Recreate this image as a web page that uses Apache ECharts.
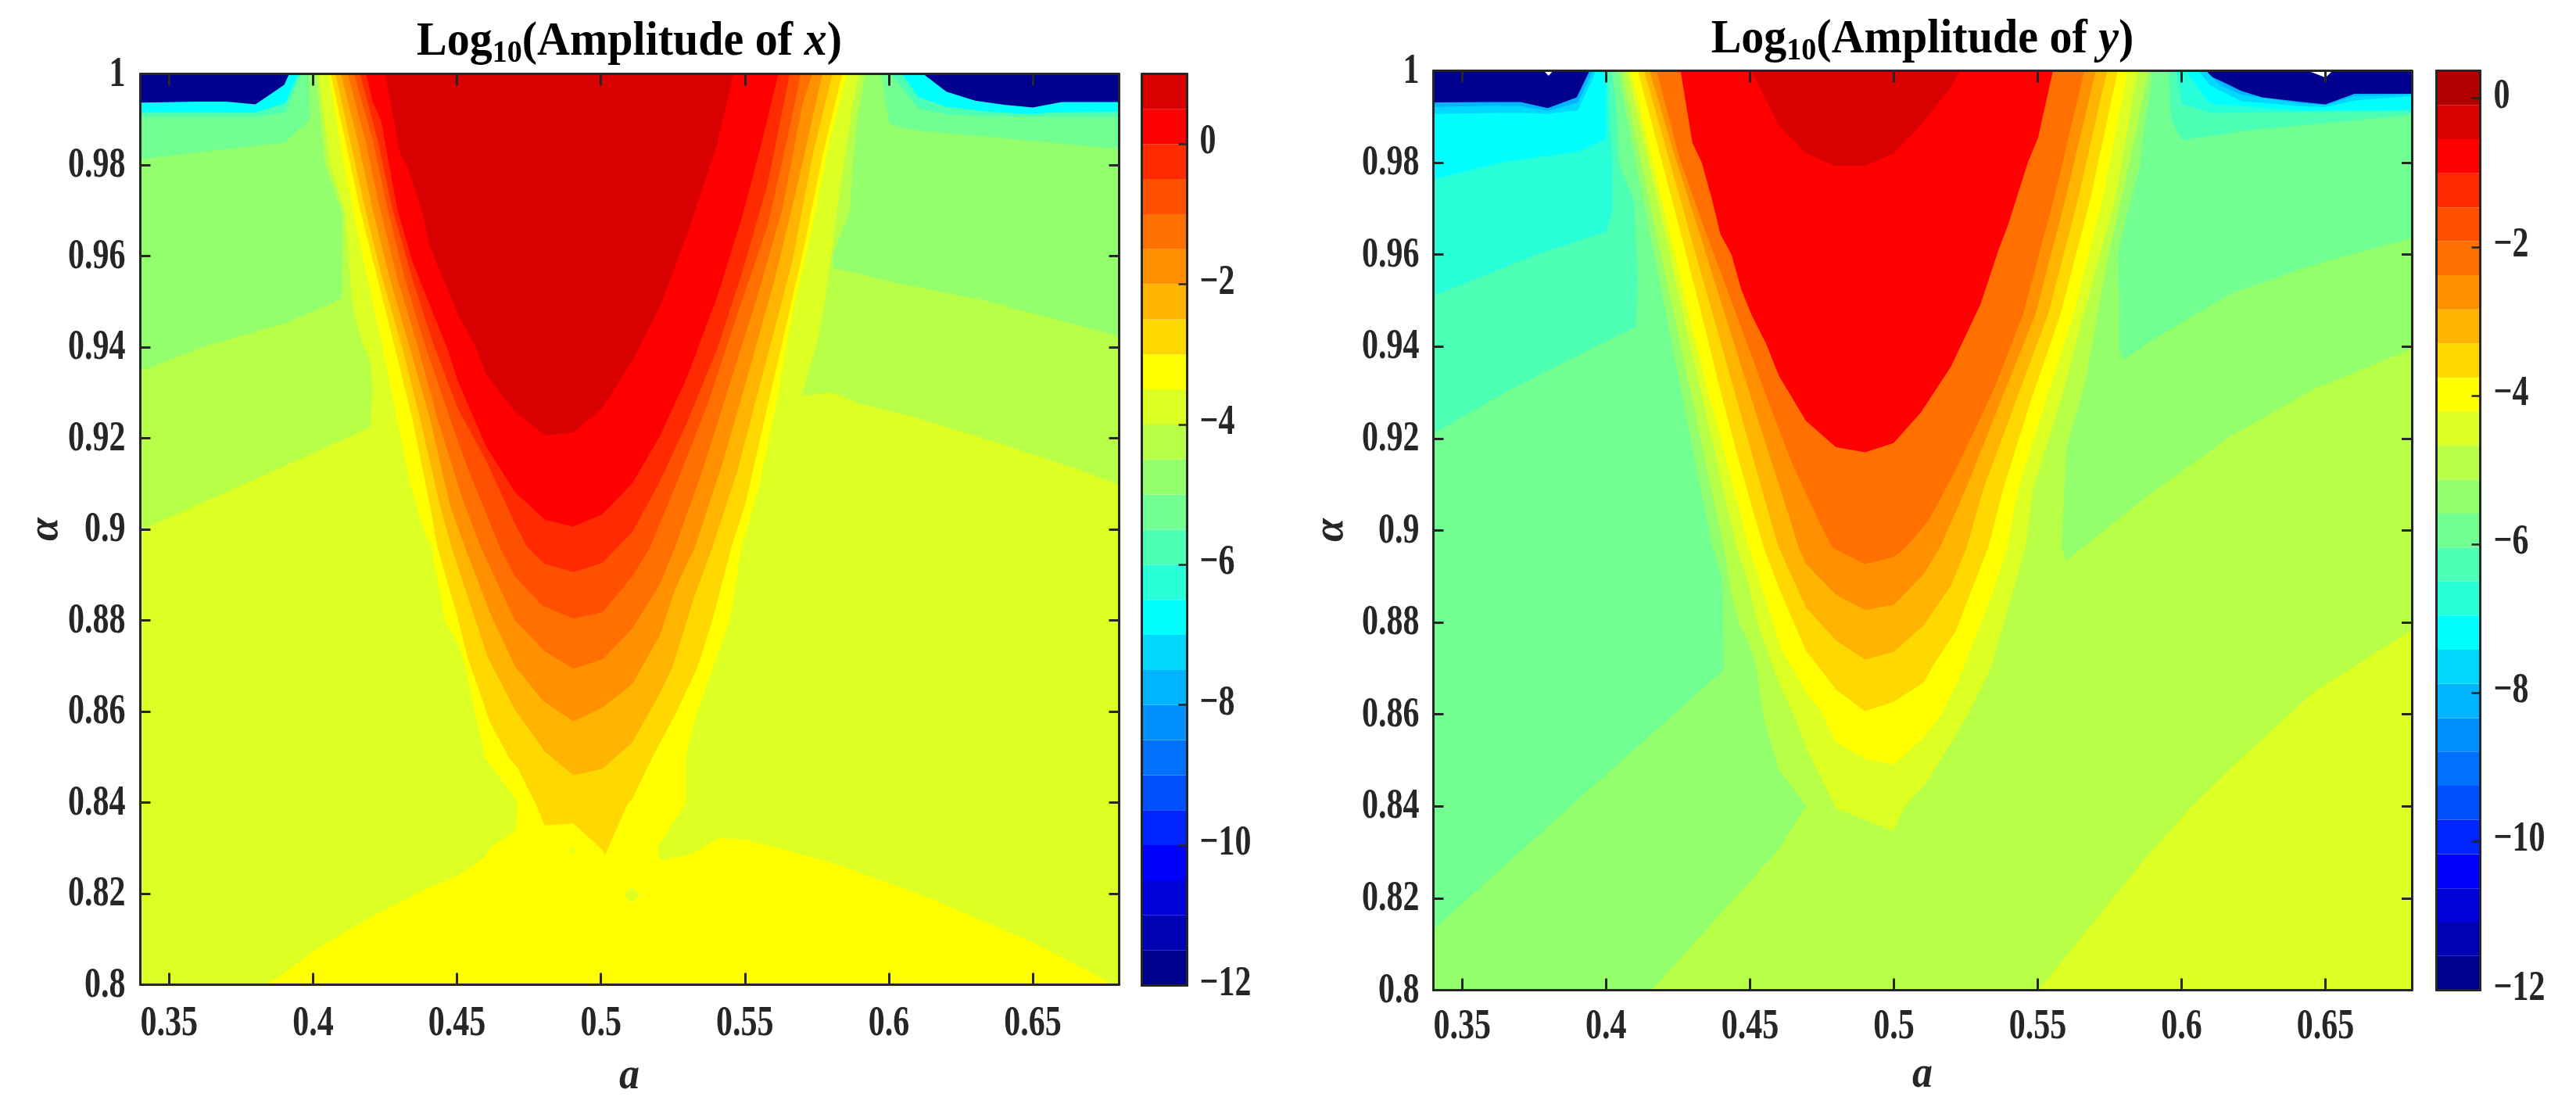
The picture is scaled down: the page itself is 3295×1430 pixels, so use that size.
<!DOCTYPE html>
<html><head><meta charset="utf-8">
<style>html,body{margin:0;padding:0;background:#fff}#c{width:3295px;height:1430px}</style>
<script src="https://cdn.jsdelivr.net/npm/echarts@6/dist/echarts.min.js"></script>
</head><body><div id="c"></div>
<script>
// ---- tick values and labels
const aTicks = [0.35,0.4,0.45,0.5,0.55,0.6,0.65];
const aTickLabels = ['0.35','0.4','0.45','0.5','0.55','0.6','0.65'];
const alphaTicks = [0.8,0.82,0.84,0.86,0.88,0.9,0.92,0.94,0.96,0.98,1];
const alphaTickLabels = ['0.8','0.82','0.84','0.86','0.88','0.9','0.92','0.94','0.96','0.98','1'];
const cbTicks = [0,-2,-4,-6,-8,-10,-12];
const cbTickLabels = ['0','\u22122','\u22124','\u22126','\u22128','\u221210','\u221212'];
// ---- colour-bar band edges (log10 amplitude)
const xLevels = [-12,-11.5,-11,-10.5,-10,-9.5,-9,-8.5,-8,-7.5,-7,-6.5,-6,-5.5,-5,-4.5,-4,-3.5,-3,-2.5,-2,-1.5,-1,-0.5,0,0.5,1];
const yLevels = [-12,-11.54,-11.08,-10.63,-10.17,-9.71,-9.25,-8.79,-8.34,-7.88,-7.42,-6.96,-6.5,-6.05,-5.59,-5.13,-4.67,-4.21,-3.76,-3.3,-2.84,-2.38,-1.92,-1.47,-1.01,-0.55,-0.09,0.37];
const jet = ['#000090','#0000b4','#0000d8','#0000ff','#0024ff','#0050ff','#0070ff','#0090ff','#00b4ff','#00d8ff','#00ffff','#28ffd8','#4cffb4','#70ff90','#94ff6c','#b8ff48','#dcff24','#ffff00','#ffd800','#ffb400','#ff9000','#ff7000','#ff5000','#ff2a00','#ff0000','#d80000','#b00000'];

// ---- contour regions in (a, alpha): area above each level
const whole = [[.34,.8],[.34,1],[.68,1],[.68,.8]];

// Amplitude of x
const xCyan = [[.34,.8],[.34,.9937],[.36,.9939],[.37,.9939],[.38,.9933],[.39,.9976],[.3917,1],[.6119,1],[.62,.9961],[.63,.9941],[.64,.9932],[.65,.9926],[.66,.9938],[.68,.9938],[.68,.8]];
const xC4c = [[.34,.8],[.34,.9916],[.38,.9915],[.3904,.9936],[.395,1],[.6046,1],[.6102,.9949],[.62,.9928],[.6327,.9918],[.6418,.9914],[.65,.9912],[.6563,.9915],[.68,.9917],[.68,.8]];
const xC70 = [[.34,.8],[.34,.9906],[.38,.9906],[.3904,.9916],[.3958,1],[.601,1],[.6102,.9923],[.62,.9912],[.6327,.9907],[.68,.9905],[.68,.8]];
const xC94 = [[.34,.8],[.34,.9813],[.3904,.985],[.3991,.9902],[.3984,1],[.5974,1],[.5987,.9941],[.6001,.989],[.61,.9875],[.6327,.9863],[.68,.9835],[.68,.8]];
const xCb8 = [[.34,.8],[.34,.9347],[.3634,.9404],[.3911,.9454],[.4099,.9507],[.4102,.9695],[.4042,.98],[.401,1],[.5919,1],[.5888,.9889],[.5874,.98],[.5865,.97],[.5804,.96],[.5807,.9573],[.59,.9561],[.601,.9543],[.6327,.9503],[.66,.9458],[.68,.9423],[.68,.8]];
const xCdc = [[.34,.8],[.34,.8998],[.37,.9082],[.40,.9167],[.4198,.9224],[.4207,.9304],[.4198,.937],[.4172,.9408],[.4137,.9488],[.4111,.9695],[.4059,.9802],[.4018,1],[.5897,1],[.5874,.9929],[.582,.97],[.5778,.95],[.5761,.9441],[.5747,.94],[.5702,.9304],[.5702,.9293],[.5802,.9301],[.5901,.9275],[.6083,.9247],[.6354,.9195],[.6626,.9138],[.68,.9099],[.68,.8]];
const xCyellow = [[.4054,1],[.4106,.98],[.4172,.96],[.4241,.94],[.4273,.93],[.4337,.91],[.4384,.90],[.4411,.896],[.4458,.88],[.4502,.8752],[.4528,.87],[.4562,.86],[.4597,.85],[.471,.84],[.4705,.834],[.4615,.83],[.4597,.828],[.4502,.824],[.4398,.8212],[.4189,.8144],[.4016,.808],[.3842,.8],[.6781,.8],[.6508,.8091],[.615,.8188],[.5821,.8264],[.5509,.8318],[.5405,.8322],[.5352,.83],[.53,.8284],[.5205,.8274],[.5196,.83],[.5295,.84],[.5295,.85],[.5335,.86],[.5448,.88],[.5488,.896],[.5552,.9101],[.5613,.9289],[.5665,.9473],[.5734,.9664],[.5795,.9856],[.5856,1]];
const xHole1 = [[.5083,.8196],[.5104,.8214],[.5139,.8198],[.5104,.818]];
const xHole2 = [[.4892,.8298],[.4905,.8302],[.4908,.829],[.49,.8285]];
const xCd8 = [[.4061,1],[.4111,.9856],[.4163,.9703],[.4224,.955],[.4285,.9396],[.4345,.9243],[.4406,.9052],[.4432,.896],[.4498,.8816],[.4536,.872],[.4615,.8576],[.4681,.8498],[.471,.8476],[.4771,.84],[.4805,.835],[.4904,.8354],[.5005,.8296],[.5014,.8284],[.5092,.8396],[.5109,.8408],[.5179,.85],[.5257,.8592],[.5335,.8696],[.5387,.88],[.5453,.896],[.55,.9052],[.5569,.9243],[.5639,.9435],[.5708,.9626],[.5769,.9818],[.5838,1]];
const xCb4 = [[.4078,1],[.4128,.9856],[.4181,.9703],[.4241,.955],[.4311,.9396],[.4372,.9243],[.4441,.9052],[.4481,.896],[.4606,.872],[.4701,.8604],[.4805,.8512],[.4904,.846],[.5005,.8474],[.5109,.8532],[.5205,.864],[.5248,.8696],[.5326,.8856],[.5387,.896],[.5474,.9128],[.5569,.9358],[.5665,.9588],[.5734,.9818],[.5804,1]];
const xC90 = [[.4097,1],[.4154,.9856],[.4207,.9703],[.4267,.955],[.4337,.9396],[.4406,.9243],[.4476,.9052],[.4528,.896],[.4615,.8816],[.4701,.87],[.4797,.8624],[.4904,.8578],[.5005,.8608],[.5109,.866],[.5205,.8768],[.5257,.8868],[.5326,.896],[.5422,.9144],[.5509,.9335],[.5604,.955],[.5691,.9779],[.5769,1]];
const xC70o = [[.412,1],[.4181,.9856],[.4233,.9703],[.4293,.955],[.4363,.9404],[.4432,.9243],[.4519,.9067],[.4583,.896],[.4701,.88],[.4805,.8732],[.4904,.8694],[.5005,.8714],[.5109,.8782],[.5205,.888],[.5257,.896],[.5352,.9128],[.5448,.932],[.5543,.9511],[.563,.9703],[.57,.9933],[.5734,1]];
const xC50 = [[.4142,1],[.4207,.9856],[.4259,.9703],[.4319,.955],[.4389,.9404],[.4476,.9243],[.4536,.9136],[.4649,.896],[.4701,.8896],[.4797,.8832],[.4904,.8804],[.5005,.8818],[.5109,.8896],[.517,.896],[.5265,.9105],[.537,.9274],[.5474,.9473],[.5578,.9664],[.5647,.9856],[.5694,1]];
const xC2a = [[.4163,1],[.4224,.9856],[.4276,.9703],[.4345,.955],[.4415,.9412],[.4502,.9266],[.4601,.9151],[.4701,.9013],[.4745,.896],[.4805,.8924],[.4904,.8906],[.5005,.8926],[.5057,.896],[.5109,.8994],[.5205,.9105],[.53,.9236],[.5404,.9396],[.5491,.9565],[.5578,.9756],[.5656,1]];
const xCred = [[.4184,1],[.4207,.994],[.4238,.9894],[.4259,.9818],[.4293,.9703],[.4345,.9588],[.4398,.9504],[.4467,.9396],[.4502,.9327],[.4601,.9182],[.4701,.9082],[.4805,.9021],[.4904,.9006],[.5005,.9033],[.5109,.9101],[.5205,.9205],[.53,.9335],[.5404,.9511],[.5491,.9687],[.5561,.9856],[.5616,1]];
const xCdark = [[.425,1],[.4302,.9825],[.4328,.9795],[.438,.9695],[.4401,.963],[.4432,.958],[.4505,.9469],[.4562,.9404],[.4602,.9339],[.4701,.9259],[.4805,.9206],[.4904,.9213],[.5005,.9266],[.5109,.937],[.5205,.9488],[.5309,.9664],[.5404,.9845],[.546,1]];

// Amplitude of y
const yCb4b = [[.34,.8],[.34,.9931],[.3603,.9932],[.3703,.9932],[.3798,.9919],[.3898,.9942],[.3943,1],[.606,1],[.6153,.9973],[.6207,.9956],[.628,.9942],[.6407,.9933],[.65,.9927],[.66,.995],[.68,.995],[.68,.8]];
const yCd8b = [[.34,.8],[.34,.9921],[.3603,.9924],[.3703,.9923],[.3798,.9913],[.3902,.9931],[.3955,1],[.6085,1],[.6135,.9968],[.6207,.9948],[.6407,.993],[.65,.9925],[.66,.9945],[.68,.9949],[.68,.8]];
const yCyan = [[.34,.8],[.34,.9906],[.3603,.9908],[.3726,.9908],[.3798,.9906],[.3902,.9914],[.3966,1],[.6058,1],[.6099,.9968],[.6207,.9934],[.6316,.9928],[.6407,.9923],[.65,.9921],[.66,.9935],[.68,.9945],[.68,.8]];
const yC28 = [[.34,.8],[.34,.9764],[.3639,.9801],[.3902,.9824],[.4,.9852],[.4,.9971],[.3993,1],[.6013,1],[.6099,.9928],[.6407,.9914],[.68,.9915],[.68,.8]];
const yC4c = [[.34,.8],[.34,.951],[.3757,.96],[.4,.965],[.4023,.9697],[.4023,.9779],[.4011,.9931],[.4004,1],[.5981,1],[.6,.9928],[.61,.9908],[.68,.9912],[.68,.8]];
const yC70 = [[.34,.8],[.34,.9211],[.3656,.9303],[.3968,.9402],[.4103,.9443],[.411,.9546],[.4098,.9713],[.4046,.9797],[.4034,.9931],[.402,1],[.5956,1],[.5963,.9897],[.6,.985],[.6269,.9873],[.68,.9904],[.68,.8]];
const yC94 = [[.34,.8],[.34,.8132],[.3898,.8412],[.441,.8698],[.4404,.8892],[.437,.8963],[.4349,.9029],[.4309,.9151],[.4266,.9287],[.4209,.947],[.4148,.966],[.4099,.9812],[.4041,1],[.5901,1],[.5863,.9846],[.5854,.979],[.5809,.9682],[.5777,.9598],[.5784,.9507],[.5783,.9394],[.5801,.9371],[.589,.9412],[.6174,.9516],[.6458,.9578],[.68,.9637],[.68,.8]];
const yCb8 = [[.4158,.8],[.46,.8306],[.4695,.8401],[.46,.848],[.4548,.8591],[.4522,.8702],[.4496,.8757],[.4462,.88],[.4436,.886],[.441,.8963],[.4387,.9029],[.4345,.9151],[.4299,.9287],[.4236,.947],[.417,.966],[.4119,.9812],[.4054,1],[.5883,1],[.5836,.9846],[.5777,.9682],[.5745,.9598],[.5718,.9507],[.5666,.9325],[.56,.9181],[.5582,.8962],[.56,.8935],[.5657,.8963],[.5735,.9002],[.589,.9079],[.6174,.9206],[.6458,.9307],[.68,.9395],[.68,.8]];
const yCdcCorner = [[.5503,.8],[.5734,.8179],[.589,.8299],[.6025,.8393],[.6174,.8485],[.6458,.8648],[.68,.8784],[.68,.8]];
const yCdc = [[.4073,1],[.4144,.9812],[.42,.966],[.4267,.947],[.4335,.9287],[.4384,.9151],[.4429,.9029],[.4453,.8963],[.4496,.8884],[.4522,.8805],[.46,.867],[.4652,.8599],[.4695,.8528],[.4799,.8395],[.4999,.8346],[.5038,.84],[.5111,.8449],[.525,.8591],[.5336,.8698],[.5458,.8963],[.5484,.909],[.5579,.928],[.566,.947],[.577,.9721],[.5848,1]];
const yCyellow = [[.4087,1],[.4158,.9812],[.4217,.966],[.4288,.947],[.4361,.9287],[.4418,.9151],[.447,.9029],[.4496,.8963],[.4557,.8844],[.4609,.8741],[.4704,.8639],[.4747,.8607],[.4799,.854],[.49,.8504],[.4999,.8491],[.5103,.8548],[.5172,.8607],[.5241,.8698],[.5345,.8868],[.5394,.8963],[.5432,.909],[.5527,.928],[.5625,.947],[.5726,.9721],[.5813,1]];
const yCd8 = [[.411,1],[.419,.9812],[.4254,.966],[.4332,.947],[.4404,.9287],[.4462,.9151],[.4517,.9029],[.4548,.8963],[.46,.8876],[.4695,.8738],[.4799,.8654],[.49,.8607],[.4999,.8627],[.5103,.8669],[.5137,.8706],[.5215,.8781],[.5328,.8963],[.538,.909],[.5475,.928],[.5579,.947],[.5683,.9721],[.5778,1]];
const yCb4 = [[.4132,1],[.4217,.9812],[.4285,.966],[.4371,.947],[.4453,.9287],[.4514,.9151],[.4569,.9029],[.46,.8963],[.4695,.8832],[.4799,.8761],[.49,.8719],[.4999,.8736],[.5103,.8793],[.5198,.888],[.5253,.8963],[.5311,.909],[.5423,.928],[.5536,.947],[.564,.9721],[.5741,1]];
const yC90 = [[.4151,1],[.424,.9812],[.4318,.966],[.4413,.947],[.4505,.9287],[.4574,.9151],[.4637,.9029],[.4669,.8963],[.4695,.8927],[.4799,.886],[.49,.8827],[.4999,.8838],[.5103,.8904],[.516,.8963],[.525,.909],[.5371,.928],[.5492,.947],[.5596,.9721],[.5702,1]];
const yC70o = [[.4176,1],[.4254,.9812],[.434,.966],[.4453,.947],[.456,.9287],[.4643,.9151],[.4739,.9021],[.4786,.8963],[.49,.8927],[.4999,.8942],[.5042,.8963],[.512,.9021],[.5215,.9132],[.5345,.9303],[.5449,.947],[.5562,.9736],[.5662,1]];
const yCred = [[.4259,1],[.428,.9919],[.43,.9843],[.4332,.9801],[.4366,.9725],[.4397,.9645],[.4436,.96],[.447,.9524],[.4505,.947],[.4557,.9405],[.46,.9337],[.4695,.9238],[.4799,.9181],[.49,.917],[.4999,.919],[.5094,.9257],[.5198,.9356],[.5302,.9493],[.5362,.9607],[.5397,.9665],[.5466,.9801],[.5501,.9854],[.5553,1]];
const yCdark = [[.4505,1],[.46,.9881],[.4695,.982],[.4799,.9793],[.49,.9793],[.4999,.982],[.5094,.9881],[.5198,.9965],[.5233,1]];
const yBlankL = [[.3784,1],[.3816,1],[.38,.9989]];
const yBlankR = [[.6439,1],[.6525,1],[.65,.9985]];

// paint order, lowest level first: [jet index, region]
const xPaint = [[0,whole],[10,xCyan],[12,xC4c],[13,xC70],[14,xC94],[15,xCb8],[16,xCdc],[17,xCyellow],[16,xHole1],[16,xHole2],[18,xCd8],[19,xCb4],[20,xC90],[21,xC70o],[22,xC50],[23,xC2a],[24,xCred],[25,xCdark]];
const yPaint = [[0,whole],[8,yCb4b],[9,yCd8b],[10,yCyan],[11,yC28],[12,yC4c],[13,yC70],[14,yC94],[15,yCb8],[16,yCdcCorner],[16,yCdc],[17,yCyellow],[18,yCd8],[19,yCb4],[20,yC90],[21,yC70o],[24,yCred],[25,yCdark],[-1,yBlankL],[-1,yBlankR]];

const INK = '#262626', SERIF = '"Liberation Serif"';
const panels = [
  {paint:xPaint, levels:xLevels, name:'x',
   grid:{left:179.5,top:94.5,width:1252,height:1165}, cb:{left:1460.5,top:94.5,width:58,height:1166},
   xLabelDy:50, yLabelX:160.5, cbLabelDx:16, titleX:805, titleY:89, aX:805, aY:1406, alphaX:59, alphaY:677, cbMax:1},
  {paint:yPaint, levels:yLevels, name:'y',
   grid:{left:1833.5,top:90.5,width:1251.5,height:1176}, cb:{left:3116.5,top:90.5,width:56,height:1176},
   xLabelDy:47, yLabelX:1815.5, cbLabelDx:17, titleX:2459, titleY:86, aX:2459, aY:1404, alphaX:1703, alphaY:678, cbMax:0.37}
];

const grid=[], xAxis=[], yAxis=[], series=[];
const axLine = {show:true,onZero:false,lineStyle:{color:INK,width:3}};
function tickAxis(o){return Object.assign({type:'value',z:5,axisLine:axLine,splitLine:{show:false},axisLabel:{show:false},silent:true},o);}

panels.forEach(function(p,i){
  const g=i*2, c=i*2+1;
  grid.push(Object.assign({containLabel:false},p.grid), Object.assign({containLabel:false},p.cb));
  const xt={show:true,inside:true,length:15,lineStyle:{color:INK,width:3},customValues:aTicks};
  const yt={show:true,inside:true,length:13,lineStyle:{color:INK,width:3},customValues:alphaTicks};
  const ct={show:true,inside:true,length:11,lineStyle:{color:INK,width:2.5},customValues:cbTicks};
  const none={show:false};
  xAxis.push(
    tickAxis({gridIndex:g,position:'bottom',min:.34,max:.68,axisTick:xt}),
    tickAxis({gridIndex:g,position:'top',min:.34,max:.68,axisTick:xt}),
    tickAxis({gridIndex:c,position:'bottom',min:0,max:1,axisTick:none}),
    tickAxis({gridIndex:c,position:'top',min:0,max:1,axisTick:none}));
  yAxis.push(
    tickAxis({gridIndex:g,position:'left',min:.8,max:1,axisTick:yt}),
    tickAxis({gridIndex:g,position:'right',min:.8,max:1,axisTick:yt}),
    tickAxis({gridIndex:c,position:'left',min:-12,max:p.cbMax,axisTick:none}),
    tickAxis({gridIndex:c,position:'right',min:-12,max:p.cbMax,axisTick:ct}));
  const xi=i*4, yi=i*4, cxi=i*4+2, cyi=i*4+2;

  // filled contours
  series.push({type:'custom',name:'Amplitude of '+p.name,xAxisIndex:xi,yAxisIndex:yi,z:1,silent:true,animation:false,clip:true,
    data:p.paint.map(function(e,k){return [e[1][0][0],e[1][0][1],k];}),
    renderItem:function(params,api){
      const e=p.paint[api.value(2)];
      const col=e[0]<0?'#ffffff':jet[e[0]];
      return {type:'polygon',shape:{points:e[1].map(function(q){return api.coord(q);})},style:{fill:col,stroke:null}};
    }});

  // colour bar bands
  series.push({type:'custom',name:'Colour bar '+p.name,xAxisIndex:cxi,yAxisIndex:cyi,z:1,silent:true,animation:false,
    data:p.levels.slice(0,-1).map(function(v,k){return [0,v,k];}),
    renderItem:function(params,api){
      const k=api.value(2);
      const a=api.coord([0,p.levels[k]]), b=api.coord([1,p.levels[k+1]]);
      return {type:'rect',shape:{x:a[0],y:b[1],width:b[0]-a[0],height:a[1]-b[1]},style:{fill:jet[k]}};
    }});

  // tick labels, drawn through the axes: the reference's type is tall and narrow
  function textEl(text,x,y,align){
    return {type:'text',x:x,y:y,scaleY:1.3,style:{text:text,align:align,verticalAlign:'middle',fill:INK,fontFamily:SERIF,fontWeight:'bold',fontSize:42}};
  }
  series.push({type:'custom',name:'a ticks '+p.name,xAxisIndex:xi,yAxisIndex:yi,z:6,silent:true,animation:false,clip:false,
    data:aTicks.map(function(v,k){return [v,.8,k];}),
    renderItem:function(params,api){
      const c0=api.coord([api.value(0),.8]);
      return textEl(aTickLabels[api.value(2)],c0[0],c0[1]+p.xLabelDy,'center');
    }});
  series.push({type:'custom',name:'alpha ticks '+p.name,xAxisIndex:xi,yAxisIndex:yi,z:6,silent:true,animation:false,clip:false,
    data:alphaTicks.map(function(v,k){return [.34,v,k];}),
    renderItem:function(params,api){
      const c0=api.coord([.34,api.value(1)]);
      return textEl(alphaTickLabels[api.value(2)],p.yLabelX,c0[1]+1,'right');
    }});
  series.push({type:'custom',name:'colour ticks '+p.name,xAxisIndex:cxi,yAxisIndex:cyi,z:6,silent:true,animation:false,clip:false,
    data:cbTicks.map(function(v,k){return [1,v,k];}),
    renderItem:function(params,api){
      const c0=api.coord([1,api.value(1)]);
      return textEl(cbTickLabels[api.value(2)],c0[0]+p.cbLabelDx,c0[1]-2,'left');
    }});

  // title and axis names
  series.push({type:'custom',name:'titles '+p.name,xAxisIndex:xi,yAxisIndex:yi,z:6,silent:true,animation:false,clip:false,
    data:[[.5,1,0],[.5,.8,1],[.34,.9,2]],
    renderItem:function(params,api){
      const t=api.value(2);
      if(t===0){
        const base={fontFamily:SERIF,fontWeight:'bold',fontSize:58,fill:'#000',lineHeight:66};
        return {type:'text',x:p.titleX,y:p.titleY,scaleY:1.05,style:{
          text:'{b|Log}{s|10}{b|(Amplitude of }{i|'+p.name+'}{b|)}',align:'center',verticalAlign:'bottom',
          rich:{b:base,
            i:Object.assign({},base,{fontStyle:'italic'}),
            s:{fontFamily:SERIF,fontWeight:'bold',fontSize:38,fill:'#000',lineHeight:66,verticalAlign:'bottom'}}}};
      }
      if(t===1){
        return {type:'text',x:p.aX,y:p.aY,scaleY:1.1,style:{text:'a',align:'center',verticalAlign:'bottom',fill:INK,fontFamily:SERIF,fontWeight:'bold',fontStyle:'italic',fontSize:52}};
      }
      return {type:'text',x:p.alphaX,y:p.alphaY,rotation:Math.PI/2,style:{text:'\u03b1',align:'center',verticalAlign:'middle',fill:INK,fontFamily:SERIF,fontWeight:'bold',fontStyle:'italic',fontSize:54}};
    }});
});

const chart = echarts.init(document.getElementById('c'));
chart.setOption({backgroundColor:'#fff',animation:false,grid:grid,xAxis:xAxis,yAxis:yAxis,series:series});
</script></body></html>
